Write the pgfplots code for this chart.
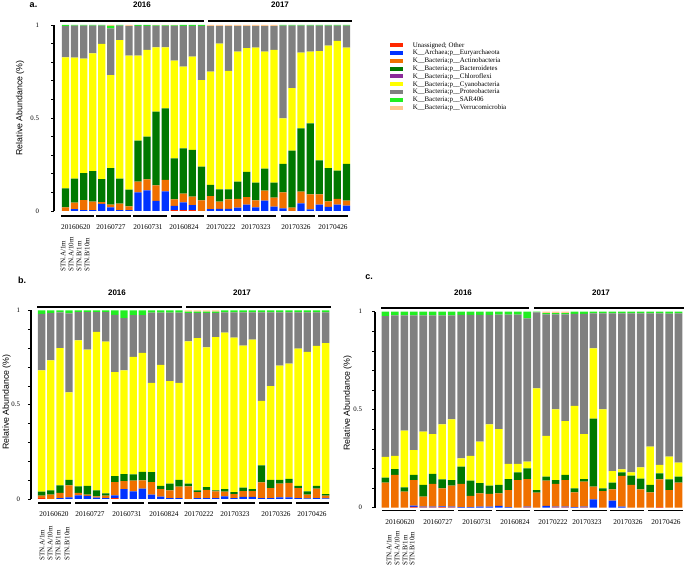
\documentclass[border=0pt]{standalone}
\usepackage{pgfplots}
\pgfplotsset{compat=1.18}
\usepackage{pgfplotstable}
\usepackage{fontspec}
\setmainfont{Liberation Sans}
\newfontfamily\serif{Liberation Serif}

\definecolor{cU}{RGB}{255,40,0}
\definecolor{cE}{RGB}{0,51,255}
\definecolor{cA}{RGB}{240,112,0}
\definecolor{cB}{RGB}{0,120,0}
\definecolor{cC}{RGB}{139,42,155}
\definecolor{cCy}{RGB}{255,255,0}
\definecolor{cP}{RGB}{128,128,128}
\definecolor{cS}{RGB}{34,238,34}
\definecolor{cV}{RGB}{255,200,144}

% panel a: columns U E A B C Cy P S V
\pgfplotstableread{
x U E A B C Cy P S V
1 0 0 .02 .102 0 .704 .168 .006 0
2 0 .01 .035 .129 0 .65 .172 .004 0
3 0 .005 .054 .144 0 .616 .177 .004 0
4 0 .005 .045 .165 0 .633 .148 .004 0
5 0 .038 .01 .124 0 .726 .098 .004 0
6 0 .02 .014 .197 0 .50 .251 .013 .005
7 0 .005 .035 .134 0 .745 .077 .004 0
8 0 .005 .02 .09 0 .72 .159 0 .006
9 0 .10 .058 .22 0 .457 .16 .005 0
10 0 .111 .059 .23 0 .466 .129 .005 0
11 0 .054 .084 .396 0 .346 .115 .003 .002
12 0 .106 .061 .385 0 .328 .115 .003 .002
13 .005 .022 .036 .22 0 .525 .187 .003 .002
14 .005 .042 .046 .244 0 .439 .219 .005 0
15 .005 .027 .045 .251 0 .502 .165 .005 0
16 0 0 .057 .181 0 .466 .291 .005 0
17 0 .01 .07 .06 0 .609 .245 0 .006
18 0 .011 .039 .066 0 .784 .094 0 .006
19 0 .011 .052 .053 0 .637 .241 0 .006
20 0 .018 .047 .093 0 .699 .137 0 .006
21 0 .034 .041 .135 0 .665 .119 0 .006
22 0 .02 .037 .095 0 .726 .116 0 .006
23 0 .056 .054 .118 0 .629 .137 0 .006
24 0 .023 .049 .08 0 .714 .128 0 .006
25 0 .014 .086 .153 0 .245 .498 .004 0
26 0 0 .018 .306 0 .336 .336 .004 0
27 0 .041 .063 .34 0 .407 .145 .004 0
28 0 .009 .081 .381 0 .386 .139 .004 0
29 0 .034 .056 .182 0 .588 .136 .004 0
30 0 .022 .03 .178 0 .659 .107 .004 0
31 0 .034 .031 .152 0 .697 .082 .004 0
32 0 .029 .027 .197 0 .625 .118 .004 0
}\dataA

% panel b
\pgfplotstableread{
x U E A B C Cy P S V
1 .005 0 .013 .021 0 .644 .299 .018 0
2 0 0 .023 .023 0 .69 .25 .014 0
3 0 .005 .027 .04 0 .728 .19 .01 0
4 0 .009 .063 .03 0 .463 .42 .015 0
5 0 .019 .013 .035 0 .775 .15 .008 0
6 0 .016 .007 .047 0 .722 .2 .008 0
7 0 .007 .007 .032 0 .841 .105 .008 0
8 0 .004 .014 .012 0 .805 .157 .008 0
9 .004 .015 .071 .031 0 .552 .304 .023 0
10 0 .053 .042 .037 0 .551 .277 .04 0
11 0 .04 .057 .033 0 .624 .221 .025 0
12 0 .055 .044 .045 0 .631 .2 .025 0
13 0 .023 .067 .053 0 .473 .373 .011 0
14 0 .012 .041 .017 0 .641 .278 .011 0
15 0 .005 .041 .035 0 .544 .364 .011 0
16 0 .004 .061 .037 0 .514 .373 .011 0
17 0 0 .067 .014 0 .755 .15 .008 .006
18 0 .005 .032 .009 0 .808 .134 .006 .006
19 0 .005 .044 .014 0 .742 .183 .006 .006
20 0 .005 .035 .006 0 .813 .129 .006 .006
21 0 .014 .025 .014 0 .829 .108 .01 0
22 0 .005 .021 .011 0 .819 .134 .01 0
23 0 .011 .031 .018 0 .753 .177 .01 0
24 0 .011 .031 .011 0 .792 .145 .01 0
25 0 .005 .083 .09 0 .343 .469 .01 0
26 0 .004 .054 .044 0 .497 .391 .01 0
27 0 .009 .072 .021 0 .606 .282 .01 0
28 0 .009 .076 .022 0 .611 .272 .01 0
29 0 .005 .053 .012 0 .728 .192 .01 0
30 0 .003 .02 .017 0 .74 .21 .01 0
31 0 .005 .05 .014 0 .743 .178 .01 0
32 0 .003 .015 .008 0 .801 .163 .01 0
}\dataB

% panel c
\pgfplotstableread{
x U E A B C Cy P S V
1 0 0 .128 .025 0 .106 .719 .022 0
2 0 0 .167 .03 0 .068 .716 .019 0
3 0 0 .082 .022 0 .289 .588 .019 0
4 .004 .006 .131 .026 0 .127 .687 .019 0
5 .002 .003 .051 .06 0 .272 .593 .019 0
6 .002 .003 .116 .051 0 .204 .605 .019 0
7 .003 .004 .092 .046 0 .28 .556 .019 0
8 .002 .003 .107 .029 0 .31 .53 .019 0
9 0 .003 .118 .088 0 .043 .732 .016 0
10 0 .003 .057 .078 0 .126 .72 .016 0
11 0 .005 .068 .053 0 .211 .647 .016 0
12 0 .005 .065 .042 0 .313 .559 .016 0
13 0 .009 .064 .043 0 .285 .584 .015 0
14 0 .003 .087 .056 0 .078 .761 .015 0
15 0 0 .141 .039 0 .044 .761 .015 0
16 .002 .003 .141 .054 0 .035 .731 .034 0
17 0 0 .077 .013 0 .519 .388 .003 0
18 0 .009 .129 .02 0 .208 .62 .007 .007
19 .002 .003 .116 .02 0 .361 .484 .007 .007
20 .002 .003 .136 .026 0 .275 .544 .007 .007
21 0 .003 .075 .021 0 .42 .47 .011 0
22 .002 .003 .128 .013 0 .23 .613 .011 0
23 0 .043 .064 .347 0 .359 .178 .009 0
24 0 0 .085 .014 0 .403 .489 .009 0
25 0 .036 .058 .034 0 .059 .804 .009 0
26 0 .005 .157 .018 0 .016 .795 .009 0
27 0 0 .116 .047 0 .017 .811 .009 0
28 0 0 .094 .054 0 .058 .785 .009 0
29 0 0 .078 .038 0 .195 .68 .009 0
30 .003 0 .142 .03 0 .043 .773 .009 0
31 0 0 .09 .055 0 .115 .73 .01 0
32 0 0 .128 .03 0 .072 .761 .009 0
}\dataC

\pgfplotsset{
  panel/.style={
    scale only axis, ybar stacked, bar width=0.8, clip=false,
    ymin=0, ymax=1,
    axis x line=none, axis y line*=left,
    xtick=\empty,
    ytick={0,0.5,1},
    minor ytick={0.1,0.2,0.3,0.4,0.6,0.7,0.8,0.9},
    tick align=outside, major tick length=3pt, minor tick length=3pt,
    tick style={black, line width=0.7pt},
    y axis line style={line width=1.5pt},
    yticklabel style={font=\serif\fontsize{6.8}{8}\selectfont},
    /pgf/number format/assume math mode=true,
  },
}

\newcommand{\stackbars}[1]{%
  \addplot[fill=cU, draw=none] table[x=x, y=U] {#1};
  \addplot[fill=cE, draw=none] table[x=x, y=E] {#1};
  \addplot[fill=cA, draw=none] table[x=x, y=A] {#1};
  \addplot[fill=cB, draw=none] table[x=x, y=B] {#1};
  \addplot[fill=cC, draw=none] table[x=x, y=C] {#1};
  \addplot[fill=cCy, draw=none] table[x=x, y=Cy] {#1};
  \addplot[fill=cP, draw=none] table[x=x, y=P] {#1};
  \addplot[fill=cS, draw=none] table[x=x, y=S] {#1};
  \addplot[fill=cV, draw=none] table[x=x, y=V] {#1};
}

\begin{document}
\begin{tikzpicture}
\useasboundingbox (0pt,0pt) rectangle (685pt,567pt);

% panel a
\begin{axis}[panel,
  at={(54pt,356pt)}, anchor=south west,
  width=297pt, height=186pt,
  xmin=-0.27, xmax=32.51,
  yticklabel style={xshift=-8.5pt},
  legend cell align=left,
  legend image code/.code={\fill[#1, draw=none] (0pt,-2pt) rectangle (13pt,2pt);},
  legend style={at={(1.131,0.913)}, anchor=north west, draw=none, fill=none,
    inner sep=0pt, column sep=9pt, row sep=0pt,
    font=\serif\fontsize{6.9}{8}\selectfont,
    nodes={inner sep=0.65pt, text height=5pt, text depth=1.5pt}},
]
\stackbars{\dataA}
\legend{Unassigned; Other, K\_\_Archaea;p\_\_Euryarchaeota, K\_\_Bacteria;p\_\_Actinobacteria,
  K\_\_Bacteria;p\_\_Bacteroidetes, K\_\_Bacteria;p\_\_Chloroflexi, K\_\_Bacteria;p\_\_Cyanobacteria,
  K\_\_Bacteria;p\_\_Proteobacteria, K\_\_Bacteria;p\_\_SAR406, K\_\_Bacteria;p\_\_Verrucomicrobia}
\end{axis}

% panel b
\begin{axis}[panel,
  at={(31pt,68pt)}, anchor=south west,
  width=299pt, height=188.5pt,
  xmin=-0.157, xmax=32.48,
  yticklabel style={xshift=-4.5pt},
]
\stackbars{\dataB}
\end{axis}

% panel c
\begin{axis}[panel,
  at={(375pt,59.3pt)}, anchor=south west,
  width=309pt, height=196pt,
  xmin=-0.1, xmax=32.58,
  yticklabel style={xshift=-6.5pt},
]
\stackbars{\dataC}
\end{axis}

\begin{scope}[x=1pt, y=1pt,
  pl/.style={font=\bfseries\fontsize{9}{10}\selectfont},
  yr/.style={font=\bfseries\fontsize{8}{9}\selectfont},
  yl/.style={font=\fontsize{8.8}{10}\selectfont, rotate=90},
  grp/.style={font=\serif\fontsize{7.3}{8}\selectfont},
  smp/.style={font=\serif\fontsize{7}{8}\selectfont, rotate=90, anchor=west, inner sep=0pt},
  ul/.style={line width=1.3pt},
  yline/.style={line width=1.5pt}]
  % panel a
  \node[pl] at (33.5,562) {a.};
  \node[yr] at (142,562) {2016};
  \node[yr] at (280,562) {2017};
  \draw[yline] (60,546) -- (204,546);
  \draw[yline] (208,546) -- (352,546);
  \node[yl] at (20,459) {Relative Abundance (\%)};
  \foreach \a/\b in {61/94,96/131,133/167,171/204,207/241,243/276,281/315,318/348}
    \draw[ul] (\a,351) -- (\b,351);
  \foreach \c/\t in {75.7/20160620,111/20160727,148/20160731,184/20160824,221/20170222,256/20170323,296/20170326,333/20170426}
    \node[grp] at (\c,340) {\t};
  \foreach \c/\t in {63/{STN.A/1m},71/{STN.A/10m},79/{STN.B/1m},87/{STN.B/10m}}
    \node[smp] at (\c,295) {\t};
  % panel b
  \node[pl] at (22,287) {b.};
  \node[yr] at (117,274) {2016};
  \node[yr] at (242,274) {2017};
  \draw[yline] (37,260) -- (182,260);
  \draw[yline] (186,260) -- (331,260);
  \node[yl] at (6.5,165) {Relative Abundance (\%)};
  \foreach \a/\b in {38/71,75/108,112/144,148/181,184/217,222/255,259/292,296/329}
    \draw[ul] (\a,64) -- (\b,64);
  \foreach \c/\t in {54/20160620,90/20160727,127/20160731,164/20160824,199/20170222,235/20170323,276/20170326,312/20170426}
    \node[grp] at (\c,53) {\t};
  \foreach \c/\t in {42/{STN.A/1m},50/{STN.A/10m},58/{STN.B/1m},67/{STN.B/10m}}
    \node[smp] at (\c,6) {\t};
  % panel c
  \node[pl] at (369,290) {c.};
  \node[yr] at (463,274) {2016};
  \node[yr] at (601,274) {2017};
  \draw[yline] (381,259) -- (529,259);
  \draw[yline] (534,259) -- (684,259);
  \node[yl] at (347.5,164) {Relative Abundance (\%)};
  \foreach \a/\b in {382/416,420/454,458/492,496/530,534/568,572/607,610/644,648/683}
    \draw[ul] (\a,56.3) -- (\b,56.3);
  \foreach \c/\t in {400/20160620,438/20160727,477/20160731,515/20160824,553/20170222,587/20170323,628/20170326,666/20170426}
    \node[grp] at (\c,45.3) {\t};
  \foreach \c/\t in {389/{STN.A/1m},397/{STN.A/10m},405/{STN.B/1m},412/{STN.B/10m}}
    \node[smp] at (\c,1) {\t};
\end{scope}
\end{tikzpicture}
\end{document}
